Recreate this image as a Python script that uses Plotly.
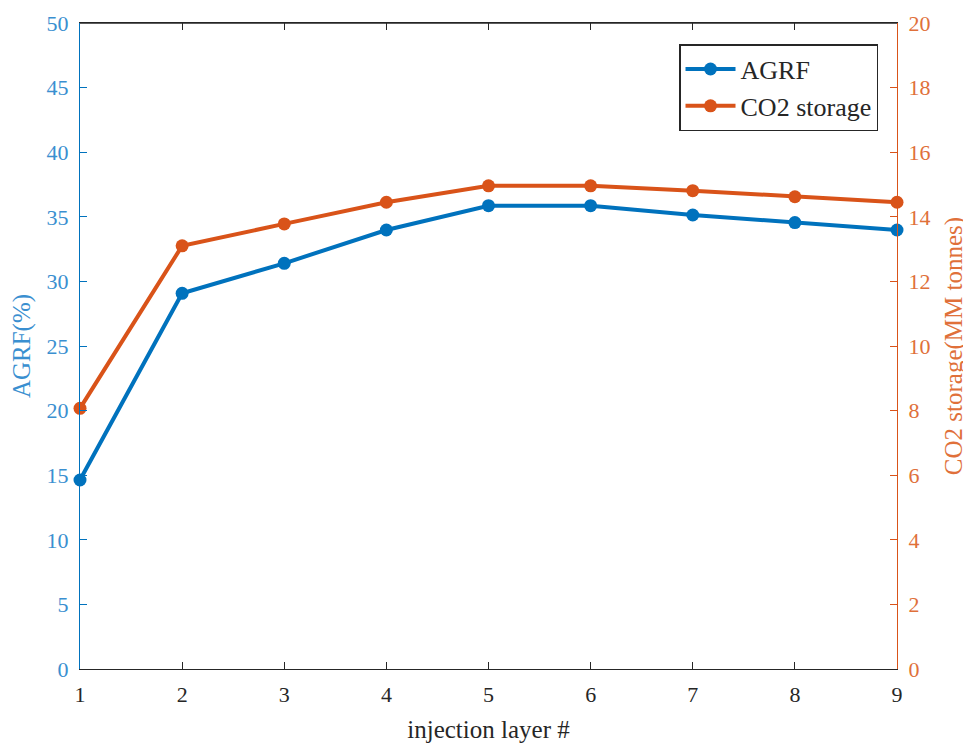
import plotly.graph_objects as go

layers = [1, 2, 3, 4, 5, 6, 7, 8, 9]
agrf = [14.63, 29.08, 31.4, 33.98, 35.86, 35.86, 35.14, 34.55, 33.98]
co2_storage = [8.07, 13.1, 13.78, 14.45, 14.96, 14.96, 14.81, 14.62, 14.45]
left_ticks = [0, 5, 10, 15, 20, 25, 30, 35, 40, 45, 50]
right_ticks = [0, 2, 4, 6, 8, 10, 12, 14, 16, 18, 20]

BLUE = "#0072BD"
ORANGE = "#D95319"
BLUE_TXT = "#3a8fd0"
ORANGE_TXT = "#e0703a"
FONT = "Liberation Serif"

fig = go.Figure()
fig.add_trace(go.Scatter(x=layers, y=agrf, name="AGRF", mode="lines+markers",
                         line=dict(color=BLUE, width=4), marker=dict(size=13, color=BLUE),
                         cliponaxis=False, yaxis="y"))
fig.add_trace(go.Scatter(x=layers, y=co2_storage, name="CO2 storage", mode="lines+markers",
                         line=dict(color=ORANGE, width=4), marker=dict(size=13, color=ORANGE),
                         cliponaxis=False, yaxis="y2"))

fig.update_layout(
    width=971, height=748,
    margin=dict(l=72, r=82, t=15, b=87),
    paper_bgcolor="white", plot_bgcolor="white",
    font=dict(family=FONT, size=22, color="#262626"),
    showlegend=True,
    legend=dict(x=0.977, y=0.967, xanchor="right", yanchor="top",
                bgcolor="white", bordercolor="#262626", borderwidth=1.3,
                font=dict(family=FONT, size=26, color="#262626"),
                itemwidth=50, tracegroupgap=0),
    xaxis=dict(range=[1, 9], tickvals=layers, ticks="inside", ticklen=7,
               tickcolor="#262626", showline=True, linecolor="#262626", linewidth=1.3,
               mirror="ticks", showgrid=False, zeroline=False, ticklabelstandoff=5,
               automargin="bottom",
               tickfont=dict(family=FONT, size=22, color="#262626"),
               title=dict(text="injection layer #", font=dict(family=FONT, size=25, color="#262626"), standoff=14)),
    yaxis=dict(range=[0, 50], tickvals=left_ticks, ticks="inside", ticklen=7,
               tickcolor=BLUE, showline=True, linecolor=BLUE, linewidth=1.3,
               showgrid=False, zeroline=False, ticklabelstandoff=6, automargin="left",
               tickfont=dict(family=FONT, size=22, color=BLUE_TXT),
               title=dict(text="AGRF(%)", font=dict(family=FONT, size=25, color=BLUE_TXT), standoff=8)),
    yaxis2=dict(range=[0, 20], tickvals=right_ticks, ticks="inside", ticklen=7,
                tickcolor=ORANGE, showline=True, linecolor=ORANGE, linewidth=1.3,
                overlaying="y", side="right", showgrid=False, zeroline=False, ticklabelstandoff=6,
                automargin="right",
                tickfont=dict(family=FONT, size=22, color=ORANGE_TXT),
                title=dict(text="CO2 storage(MM tonnes)", font=dict(family=FONT, size=25, color=ORANGE_TXT), standoff=14)),
)
# top frame line
fig.add_shape(type="line", xref="paper", yref="paper", x0=0, x1=1, y0=1, y1=1,
              line=dict(color="#262626", width=1.3))

fig.write_html("out.html")
